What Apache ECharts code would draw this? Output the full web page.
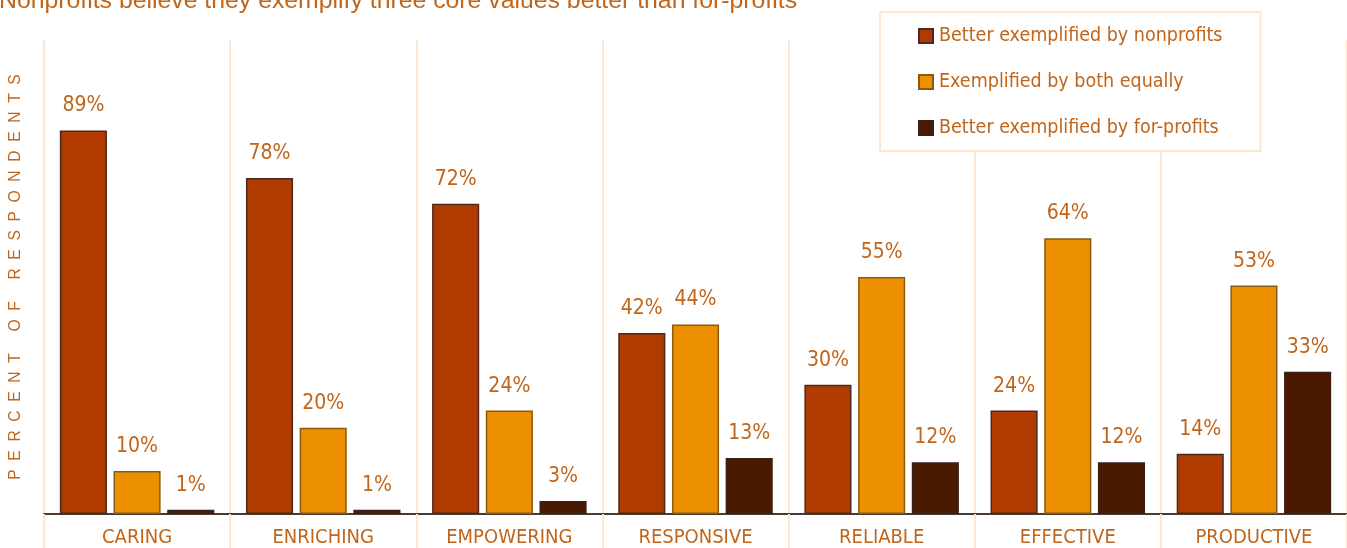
<!DOCTYPE html>
<html>
<head>
<meta charset="utf-8">
<script src="https://cdn.jsdelivr.net/npm/echarts@6/dist/echarts.min.js"></script>
<style>
  html, body { margin: 0; padding: 0; background: #ffffff; }
  #chart { width: 1347px; height: 548px; }
</style>
</head>
<body>
<div id="chart"></div>
<script>
// Survey results: which sector better exemplifies each value
const categories = ['CARING', 'ENRICHING', 'EMPOWERING', 'RESPONSIVE', 'RELIABLE', 'EFFECTIVE', 'PRODUCTIVE'];
const seriesNames = ['Better exemplified by nonprofits', 'Exemplified by both equally', 'Better exemplified by for-profits'];
const nonprofitValues = [89, 78, 72, 42, 30, 24, 14];
const bothValues = [10, 20, 24, 44, 55, 64, 53];
const forprofitValues = [1, 1, 3, 13, 12, 12, 33];

const textColor = '#C0651A';
const peach = '#FDE8CF';
const fontMain = '"Liberation Sans Narrow", "DejaVu Sans Condensed", sans-serif';

// Spread the axis title out letter by letter
const yTitle = 'PERCENT OF RESPONDENTS'.split(' ')
  .map(w => w.split('').join('  '))
  .join('     ');

const chart = echarts.init(document.getElementById('chart'), null, { renderer: 'canvas' });

function barSeries(name, data, fill, border) {
  return {
    name: name,
    type: 'bar',
    data: data,
    barGap: '14%',
    barCategoryGap: '17%',
    itemStyle: { color: fill, borderColor: border, borderWidth: 1.5 },
    label: {
      show: true,
      position: 'top',
      distance: 14,
      formatter: '{c}%',
      color: textColor,
      fontFamily: fontMain,
      fontSize: 21
    }
  };
}

chart.setOption({
  animation: false,
  title: {
    text: 'Nonprofits believe they exemplify three core values better than for-profits',
    left: -6,
    top: -16,
    textStyle: {
      color: textColor,
      fontFamily: '"Liberation Sans", Arial, sans-serif',
      fontWeight: 'normal',
      fontSize: 24.8
    }
  },
  legend: {
    orient: 'vertical',
    left: 880,
    top: 12,
    padding: [14, 38, 13, 38],
    itemGap: 26,
    itemWidth: 14,
    itemHeight: 14,
    icon: 'rect',
    backgroundColor: '#ffffff',
    borderColor: peach,
    borderWidth: 2,
    textStyle: { color: textColor, fontFamily: fontMain, fontSize: 19.5, padding: [0, 0, 0, 1] },
    data: seriesNames
  },
  grid: { left: 44, right: 0, top: 40, bottom: 34, outerBoundsMode: 'none' },
  xAxis: {
    type: 'category',
    data: categories,
    axisLine: { show: true, lineStyle: { color: '#4A3A30', width: 2 } },
    axisTick: { show: true, length: 36, lineStyle: { color: peach, width: 2 } },
    splitLine: { show: true, lineStyle: { color: peach, width: 2 } },
    axisLabel: { color: textColor, fontFamily: fontMain, fontSize: 20, margin: 14 }
  },
  yAxis: {
    type: 'value',
    min: 0,
    max: 110,
    interval: 10,
    name: yTitle,
    nameLocation: 'middle',
    nameRotate: 90,
    nameGap: 20,
    nameTextStyle: { color: textColor, fontFamily: '"Liberation Sans", sans-serif', fontSize: 15.6 },
    axisLabel: { show: false },
    axisLine: { show: false },
    axisTick: { show: false },
    splitLine: { show: false }
  },
  series: [
    barSeries(seriesNames[0], nonprofitValues, '#B03A00', '#4A2A1E'),
    barSeries(seriesNames[1], bothValues, '#EC9000', '#8A5A10'),
    barSeries(seriesNames[2], forprofitValues, '#4A1A00', '#3A2018')
  ]
});
</script>
</body>
</html>
